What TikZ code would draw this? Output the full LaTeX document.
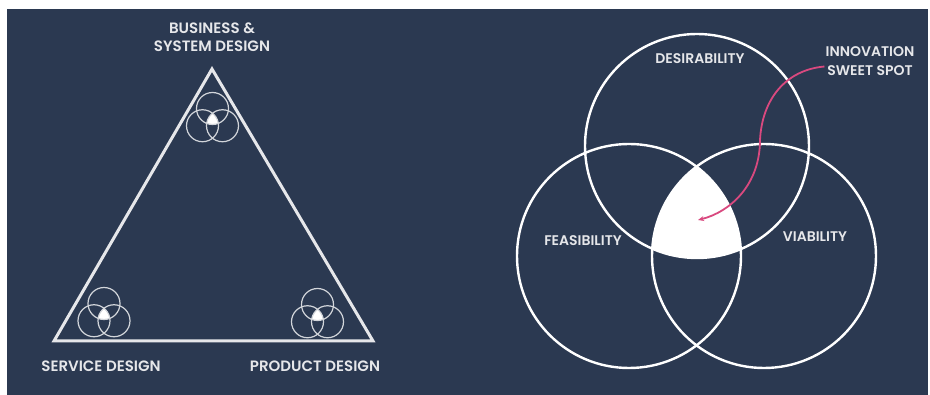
\documentclass[tikz,border=0pt]{standalone}
\usepackage{fontspec}
\setsansfont{Poppins}[BoldFont={Poppins SemiBold}]
\usetikzlibrary{arrows.meta}
\definecolor{navy}{HTML}{2B3951}
\definecolor{chalk}{HTML}{E6E7EA}
\definecolor{icongray}{HTML}{D2D5DA}
\definecolor{rosepink}{HTML}{D9497F}
\tikzset{
	heading/.style={text=chalk, align=center, inner sep=1pt, font=\sffamily\bfseries\fontsize{15}{18}\selectfont},
	vennlabel/.style={text=chalk, align=center, inner sep=1pt, font=\sffamily\bfseries\fontsize{14}{19}\selectfont},
	bigring/.style={white, line width=2.4pt},
	smallring/.style={icongray, line width=1.2pt}
}

\begin{document}
\begin{tikzpicture}[x=1pt, y=-1pt]
	\useasboundingbox (0,0) rectangle (930,395);
	\fill[white] (0,0) rectangle (930,395);
	\fill[navy] (7,9) rectangle (928,395);
	%triangle
	\coordinate (apex) at (212,69);
	\coordinate (left corner) at (54,341);
	\coordinate (right corner) at (373,341);
	\draw[chalk, line width=3pt] (apex) -- (right corner) -- (left corner) -- cycle;
	%small venn icons
	\foreach \cx/\cy in {212.5/120, 104/315, 317.5/316}
	{
		\begin{scope}
			\clip (\cx,\cy-11.5) circle (16);
			\clip (\cx-10,\cy+5.75) circle (16);
			\fill[white] (\cx+10,\cy+5.75) circle (16);
		\end{scope}
		\draw[smallring] (\cx,\cy-11.5) circle (16);
		\draw[smallring] (\cx-10,\cy+5.75) circle (16);
		\draw[smallring] (\cx+10,\cy+5.75) circle (16);
	}
	%labels left
	\node[heading] (business) at (212,37) {BUSINESS \&\\SYSTEM DESIGN};
	\node[heading] (service) at (101,366) {SERVICE DESIGN};
	\node[heading] (product) at (315,366) {PRODUCT DESIGN};
	%big venn
	\coordinate (desire) at (697,146);
	\coordinate (feasible) at (629,256);
	\coordinate (viable) at (764,256);
	\begin{scope}
		\clip (desire) circle (112);
		\clip (feasible) circle (112);
		\fill[white] (viable) circle (112);
	\end{scope}
	\draw[bigring] (desire) circle (112);
	\draw[bigring] (feasible) circle (112);
	\draw[bigring] (viable) circle (112);
	%labels right
	\node[vennlabel] (desirability) at (700,59) {DESIRABILITY};
	\node[vennlabel] (feasibility) at (583,241) {FEASIBILITY};
	\node[vennlabel] (viability) at (815,237) {VIABILITY};
	\node[vennlabel] (innov) at (870,61.5) {INNOVATION\\SWEET SPOT};
	%arrow
	\coordinate (spot) at (698,220);
	\draw[rosepink, line width=1.8pt, -{Stealth[length=6pt, width=5pt]}]
	([yshift=-5pt]innov.west) .. controls (785,70) and (762,100) .. (760,140)
	.. controls (760,185) and (730,212) .. (spot);
\end{tikzpicture}
\end{document}
